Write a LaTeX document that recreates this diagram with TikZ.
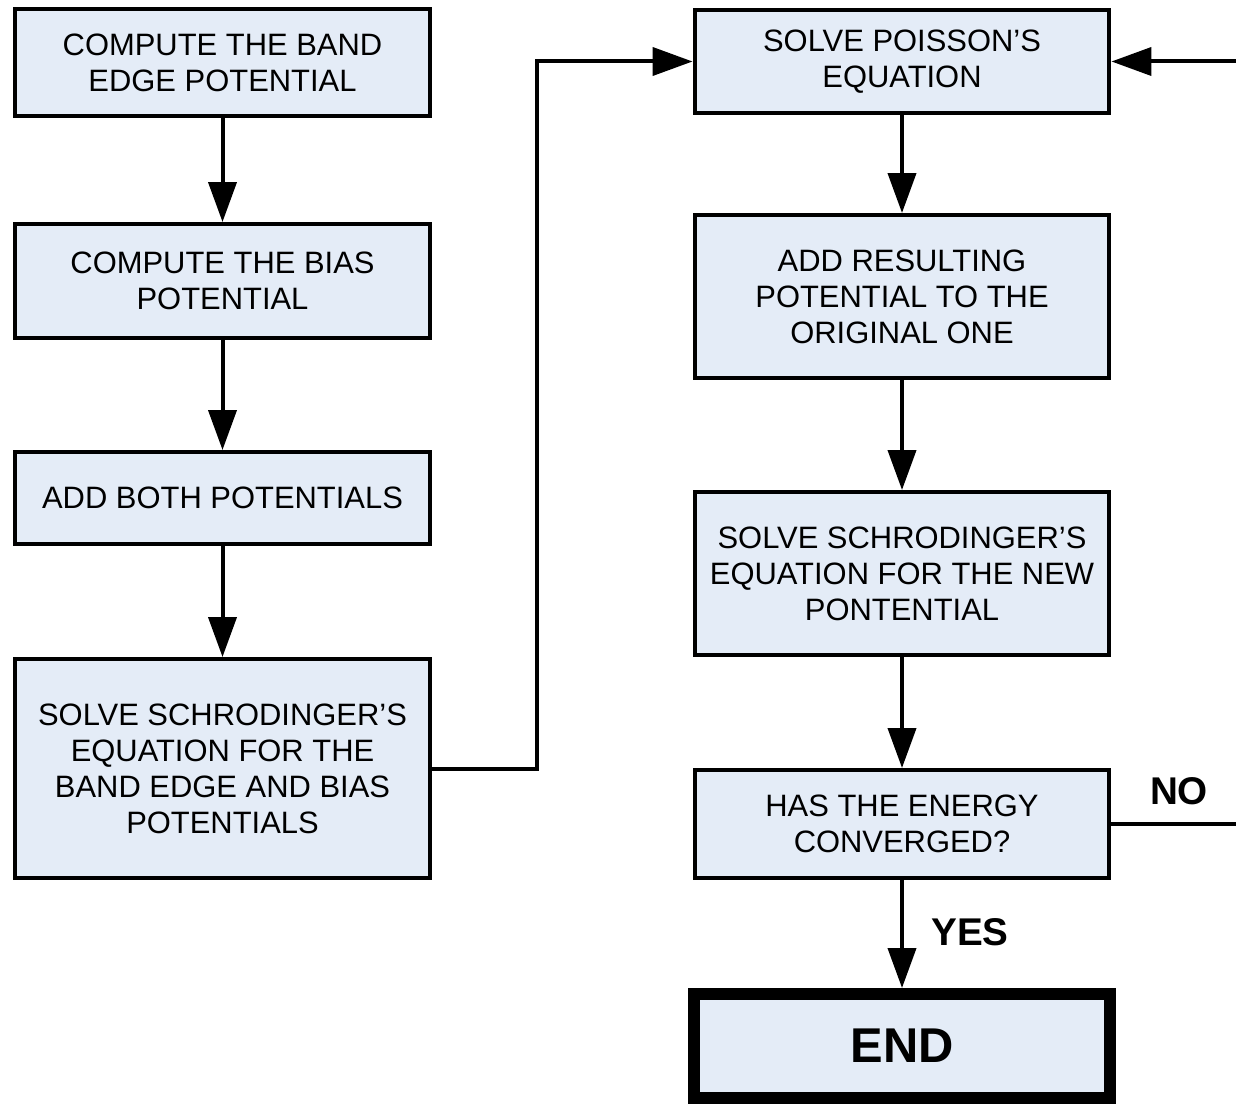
\documentclass[tikz,border=0pt]{standalone}
\usepackage{fontspec}
\setmainfont{Liberation Sans}
\usetikzlibrary{arrows.meta}
\definecolor{boxfill}{RGB}{228,236,247}

\begin{document}
\begin{tikzpicture}[x=0.02cm,y=-0.02cm, % one unit = one pixel, y runs down
  box/.style={draw=black, fill=boxfill, line width=0.08cm, minimum width=8.3cm,
    inner sep=0pt, align=center, font=\fontsize{17.6}{20.5}\selectfont},
  flow/.style={line width=0.08cm, -{Triangle[length=0.8cm,width=0.56cm]}},
  answer/.style={font=\bfseries\fontsize{22}{26}\selectfont}]
\useasboundingbox (0,0) rectangle (1236,1104);

% left column
\node[box, minimum height=2.14cm] (bandedge) at (222.5,62.5) {COMPUTE THE BAND\\EDGE POTENTIAL};
\node[box, minimum height=2.28cm] (bias) at (222.5,281) {COMPUTE THE BIAS\\POTENTIAL};
\node[box, minimum height=1.84cm] (addboth) at (222.5,498) {ADD BOTH POTENTIALS};
\node[box, minimum height=4.38cm] (schro) at (222.5,768.5) {SOLVE SCHRODINGER’S\\EQUATION FOR THE\\BAND EDGE AND BIAS\\POTENTIALS};

% right column
\node[box, minimum height=2.06cm] (poisson) at (902,61.5) {SOLVE POISSON’S\\EQUATION};
\node[box, minimum height=3.26cm] (addres) at (902,296.5) {ADD RESULTING\\POTENTIAL TO THE\\ORIGINAL ONE};
\node[box, minimum height=3.26cm] (schronew) at (902,573.5) {SOLVE SCHRODINGER’S\\EQUATION FOR THE NEW\\PONTENTIAL};
\node[box, minimum height=2.16cm] (conv) at (902,824) {HAS THE ENERGY\\CONVERGED?};
\node[box, line width=0.24cm, minimum width=8.32cm, minimum height=2.08cm,
  font=\bfseries\fontsize{27.8}{32}\selectfont] (end) at (902,1046) {END};

\node[answer] (no) at (1179,791) {NO};
\node[answer] (yes) at (970,932) {YES};

\draw[flow] (bandedge) -- (bias);
\draw[flow] (bias) -- (addboth);
\draw[flow] (addboth) -- (schro);

\coordinate (up) at (537,61.5);
\draw[flow] (schro.east) -| (up) -- (poisson.west);

\draw[flow] (poisson) -- (addres);
\draw[flow] (addres) -- (schronew);
\draw[flow] (schronew) -- (conv);
\draw[flow] (conv) -- (end);

% loop back, runs off the right edge
\coordinate (back) at (1250,824);
\draw[flow] (conv.east) -- (back) |- (poisson.east);
\end{tikzpicture}
\end{document}
